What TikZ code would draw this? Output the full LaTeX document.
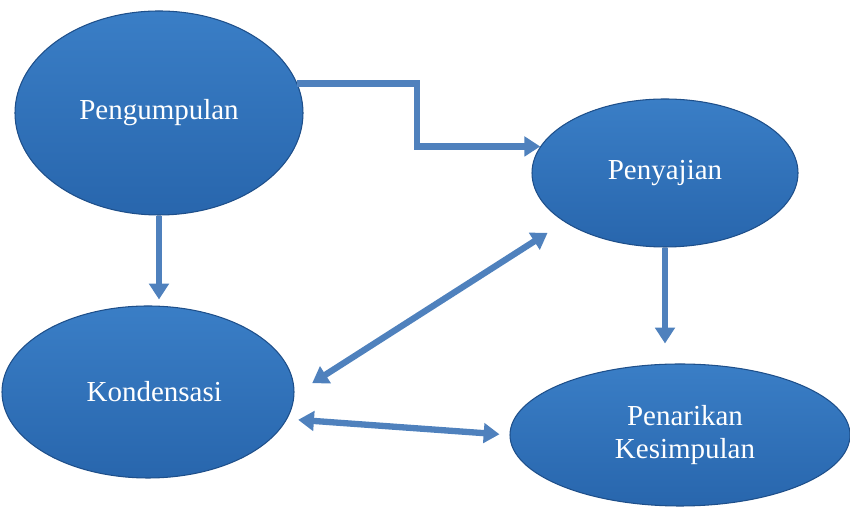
\documentclass[tikz,border=0pt]{standalone}
\usepackage{fontspec}
\setmainfont{Liberation Serif}
\usepackage{xcolor}
\definecolor{ovaltop}{HTML}{3A7EC6}
\definecolor{ovalbottom}{HTML}{2866AD}
\definecolor{ovalrim}{HTML}{1E4F8A}
\definecolor{arrowblue}{HTML}{4F81BD}
\usepackage{tikz}
\usetikzlibrary{positioning,arrows.meta,shapes.geometric,calc}

\begin{document}
\begin{tikzpicture}[
      oval/.style={ellipse, draw=ovalrim, line width=0.6pt, top color=ovaltop, bottom color=ovalbottom,
                   text=white, align=center, inner sep=0pt, font=\fontsize{16.5}{19}\selectfont},
      arr/.style={-{Triangle[length=9pt, width=11pt]}, line width=3.6pt, arrowblue},
      dbl/.style={{Triangle[length=9pt, width=11pt]}-{Triangle[length=9pt, width=11pt]},
                  line width=3.6pt, arrowblue}]
    \useasboundingbox (0,0) rectangle (17,10.2);
    \node[oval, minimum width=5.76cm, minimum height=4.08cm] (pengumpulan) at (3.18,7.94) {Pengumpulan};
    \node[oval, minimum width=5.32cm, minimum height=2.96cm] (penyajian) at (13.30,6.74) {Penyajian};
    \node[oval, minimum width=5.84cm, minimum height=3.44cm] (kondensasi) at (2.96,2.36) {\hspace{0.25cm}Kondensasi};
    \node[oval, minimum width=6.80cm, minimum height=2.84cm] (penarikan) at (13.60,1.50) {\hspace{0.2cm}Penarikan\\\hspace{0.2cm}Kesimpulan};
    \draw[arr] (pengumpulan.12) -| ([xshift=-2.46cm]penyajian.168) -- (penyajian.168);
    \draw[arr, shorten >=0.12cm] (pengumpulan.south) -- (pengumpulan.south |- kondensasi.north);
    \draw[arr, shorten >=0.4cm] (penyajian.south) -- (penyajian.south |- penarikan.north);
    \draw[dbl, shorten <=0.42cm, shorten >=0.4cm] (kondensasi.-1) -- (penyajian.206);
    \draw[dbl, shorten <=0.22cm, shorten >=0.2cm] (kondensasi.-11) -- (penarikan.180);
  \end{tikzpicture}
\end{document}
